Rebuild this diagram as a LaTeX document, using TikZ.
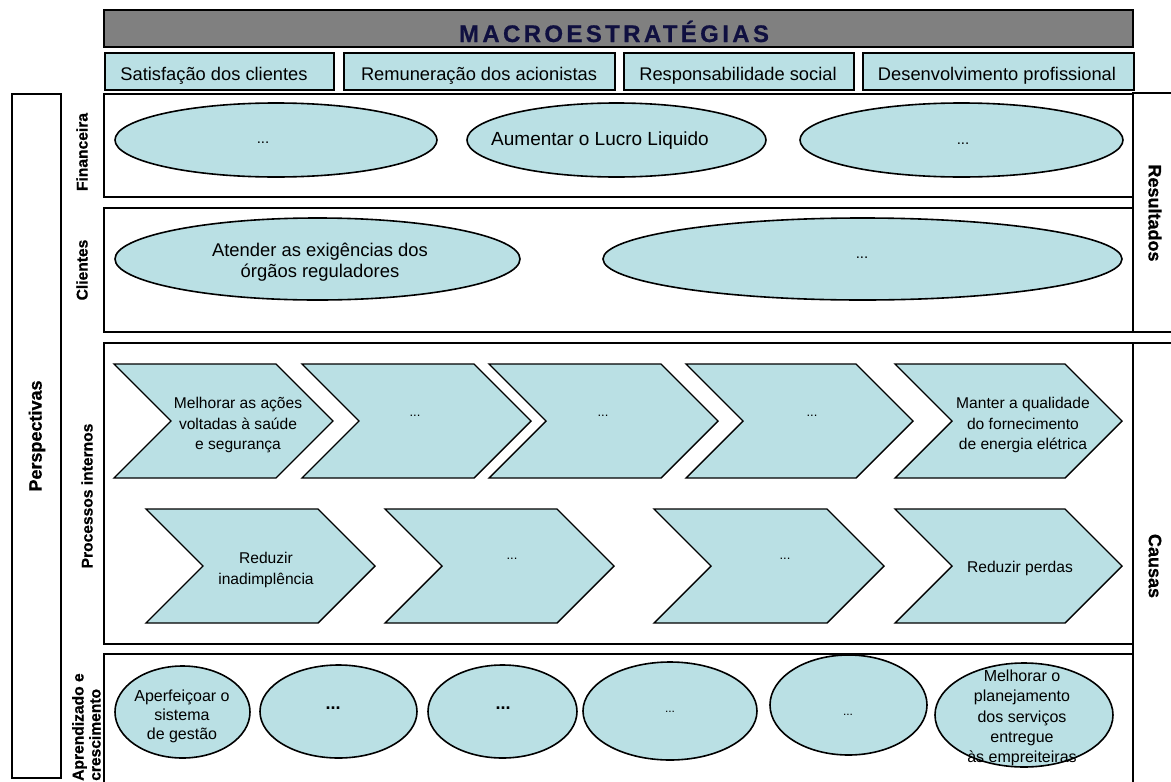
\documentclass[tikz,border=0pt]{standalone}
\usepackage{fontspec}
\setmainfont{Liberation Sans}
\newfontfamily\titlefont{Liberation Sans Bold}[LetterSpace=14,FakeBold=0.6]
\newfontfamily\heavyfont{Liberation Sans Bold}[FakeBold=0.8]
\usetikzlibrary{shapes.geometric}
\definecolor{goal}{RGB}{186,224,228}
\definecolor{barfill}{RGB}{128,128,128}
\definecolor{navy}{RGB}{16,16,64}

% chevron: left x, top y, width (height 114, 45 degree sides)
\newcommand\chevshape[3]{%
  \filldraw[chev] (#1,#2) -- ({#1+#3-57},#2) -- ({#1+#3},{#2+57})
    -- ({#1+#3-57},{#2+114}) -- (#1,{#2+114}) -- ({#1+57},{#2+57}) -- cycle;}

\begin{document}
\begin{tikzpicture}[x=1pt,y=-1pt,
  frame/.style={draw=black,line width=2pt},
  hdr/.style={draw=black,line width=1.8pt,fill=goal,inner sep=0pt,anchor=north west},
  hdrtxt/.style={font=\fontsize{18.3}{21}\selectfont,inner sep=0pt,anchor=base},
  oval/.style={ellipse,draw=black,line width=1.6pt,fill=goal,inner sep=0pt},
  chev/.style={draw=black,line width=1.4pt,fill=goal,line join=miter},
  txt/.style={font=\fontsize{15.6}{20.5}\selectfont,align=center,inner sep=0pt},
  dots/.style={font=\fontsize{15}{18}\selectfont,inner sep=0pt},
  side/.style={font=\fontsize{15.6}{17}\selectfont\heavyfont,inner sep=0pt},
  big/.style={font=\fontsize{18}{20}\selectfont\heavyfont,inner sep=0pt}]

\useasboundingbox (0,0) rectangle (1171,782);

% title bar
\draw[line width=1.8pt,fill=barfill] (104,10) rectangle (1133,47);
\node[inner sep=0pt,anchor=base,text=navy,font=\fontsize{24}{26}\selectfont\titlefont]
  (title) at (614,42) {MACROESTRATÉGIAS};

% macro strategies
\node[hdr,minimum width=229,minimum height=37] (h1) at (104,52) {};
\node[hdr,minimum width=271,minimum height=37] (h2) at (343,52) {};
\node[hdr,minimum width=230,minimum height=37] (h3) at (623,52) {};
\node[hdr,minimum width=271,minimum height=37] (h4) at (862,52) {};
\node[hdrtxt] (t1) at (214,80) {Satisfação dos clientes};
\node[hdrtxt] (t2) at (479,80) {Remuneração dos acionistas};
\node[hdrtxt] (t3) at (738,80) {Responsabilidade social};
\node[hdrtxt] (t4) at (997,80) {Desenvolvimento profissional};

% outer columns
\draw[frame] (12,94) rectangle (61,778);
\draw[frame] (1133,93) rectangle (1190,332);
\draw[frame] (1133,343) rectangle (1190,800);

% perspective rows
\draw[frame] (104,94) rectangle (1133,197);
\draw[frame] (104,208) rectangle (1133,332);
\draw[frame] (104,343) rectangle (1133,644);
\draw[frame] (104,654) rectangle (1133,800);

% column labels
\node[big,rotate=90] (persp) at (37,436) {Perspectivas};
\node[big,rotate=-90] (res) at (1155,213) {Resultados};
\node[big,rotate=-90] (cau) at (1155,566) {Causas};

% row labels
\node[side,rotate=90] (lfin) at (82,152) {Financeira};
\node[side,rotate=90] (lcli) at (82,270) {Clientes};
\node[side,rotate=90] (lpro) at (87,496) {Processos internos};
\node[side,rotate=90,anchor=north west,align=left] (lapr) at (72,781) {Aprendizado e\\crescimento};

% financial objectives
\node[oval,minimum width=322,minimum height=74] (e1) at (276,140) {};
\node[oval,minimum width=299,minimum height=74] (e2) at (616.5,140) {};
\node[oval,minimum width=323,minimum height=74] (e3) at (961.5,140) {};
\node[dots] (d1) at (263,143) {...};
\node[txt,font=\fontsize{19}{22}\selectfont] (te2) at (600,141) {Aumentar o Lucro Liquido};
\node[dots] (d3) at (963,144) {...};

% customer objectives
\node[oval,minimum width=405,minimum height=82] (e4) at (317.5,259) {};
\node[oval,minimum width=519,minimum height=82] (e5) at (862.5,259) {};
\node[txt,font=\fontsize{18.4}{21}\selectfont] (te4) at (320,262) {Atender as exigências dos\\órgãos reguladores};
\node[dots] (d5) at (862,258) {...};

% internal processes, first row
\chevshape{114}{364}{219}
\chevshape{302}{364}{229}
\chevshape{489}{364}{229}
\chevshape{686}{364}{227}
\chevshape{895}{364}{227}
\node[txt] (c1) at (238,425) {Melhorar as ações\\voltadas à saúde\\e segurança};
\node[dots,font=\fontsize{13}{15}\selectfont] (c2) at (415,416) {...};
\node[dots,font=\fontsize{13}{15}\selectfont] (c3) at (603,416) {...};
\node[dots,font=\fontsize{13}{15}\selectfont] (c4) at (812,416) {...};
\node[txt] (c5) at (1023,425) {Manter a qualidade\\do fornecimento\\de energia elétrica};

% internal processes, second row
\chevshape{146}{509}{229}
\chevshape{385}{509}{229}
\chevshape{654}{509}{230}
\chevshape{895}{509}{227}
\node[txt] (k1) at (266,570) {Reduzir\\inadimplência};
\node[dots,font=\fontsize{13}{15}\selectfont] (k2) at (512,559) {...};
\node[dots,font=\fontsize{13}{15}\selectfont] (k3) at (785,559) {...};
\node[txt] (k4) at (1020,568) {Reduzir perdas};

% learning and growth
\node[oval,minimum width=135,minimum height=92] (a1) at (182.5,712) {};
\node[oval,minimum width=157,minimum height=93] (a2) at (338.5,711.5) {};
\node[oval,minimum width=149,minimum height=93] (a3) at (502.5,711.5) {};
\node[oval,minimum width=174,minimum height=98] (a4) at (670,711) {};
\node[oval,minimum width=157,minimum height=100] (a5) at (848.5,705) {};
\node[oval,minimum width=178,minimum height=104] (a6) at (1024,715) {};
\node[txt,font=\fontsize{16}{19}\selectfont] (ta1) at (182,716) {Aperfeiçoar o\\sistema\\de gestão};
\node[dots,font=\fontsize{18}{20}\selectfont\bfseries] (ta2) at (333,708) {...};
\node[dots,font=\fontsize{18}{20}\selectfont\bfseries] (ta3) at (503,708) {...};
\node[dots,font=\fontsize{12}{14}\selectfont] (ta4) at (670,712) {...};
\node[dots,font=\fontsize{12}{14}\selectfont] (ta5) at (848,715) {...};
\node[txt,font=\fontsize{16}{20.25}\selectfont] (ta6) at (1022,718) {Melhorar o\\planejamento\\dos serviços\\entregue\\às empreiteiras};

\end{tikzpicture}
\end{document}
